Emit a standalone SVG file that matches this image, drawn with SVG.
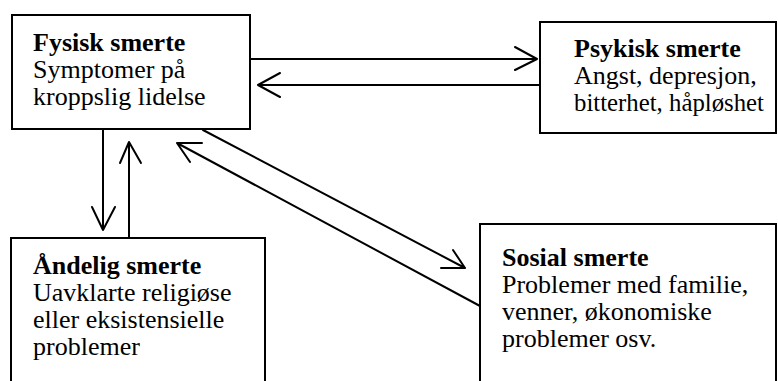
<svg xmlns="http://www.w3.org/2000/svg" width="778" height="381" viewBox="0 0 778 381">
<style>
.box{fill:#fff;stroke:#000;stroke-width:2}
.t{font-family:"Liberation Serif","Times New Roman",serif;font-size:26px;fill:#000}
.b{font-weight:bold}
.c{fill:none;stroke:#000;stroke-width:2;stroke-linecap:round;stroke-linejoin:round}
</style>
<rect width="778" height="381" fill="#fff"/>
<g id="connectors">
<path class="c" d="M250,59 H537 M515,47 L537,59 L515,70"/>
<path class="c" d="M540,85 H258 M280,73 L258,85 L280,97"/>
<path class="c" d="M103,130 V230 M92,207 L103,230 L115,207"/>
<path class="c" d="M129,238 V142 M120,163 L129,142 L141,163"/>
<path class="c" d="M203,130 L465,268 M453,250 L465,268 L441,268"/>
<path class="c" d="M480,306 L177,143 M202,143 L177,143 L190,162"/>
</g>
<g id="fysisk">
<rect class="box" x="12" y="15" width="238" height="114"/>
<text class="t b" x="33" y="51">Fysisk smerte</text>
<text class="t" x="33" y="78">Symptomer på</text>
<text class="t" x="33" y="105">kroppslig lidelse</text>
</g>
<g id="psykisk">
<rect class="box" x="540" y="22" width="236" height="111"/>
<text class="t b" x="574" y="57">Psykisk smerte</text>
<text class="t" x="574" y="84">Angst, depresjon,</text>
<text class="t" x="574" y="111" textLength="190" lengthAdjust="spacingAndGlyphs">bitterhet, håpløshet</text>
</g>
<g id="andelig">
<rect class="box" x="11" y="238" width="254" height="160"/>
<text class="t b" x="33" y="274">Åndelig smerte</text>
<text class="t" x="33" y="301">Uavklarte religiøse</text>
<text class="t" x="33" y="328">eller eksistensielle</text>
<text class="t" x="33" y="355">problemer</text>
</g>
<g id="sosial">
<rect class="box" x="480" y="224" width="296" height="170"/>
<text class="t b" x="502" y="266">Sosial smerte</text>
<text class="t" x="502" y="293">Problemer med familie,</text>
<text class="t" x="502" y="320">venner, økonomiske</text>
<text class="t" x="502" y="347">problemer osv.</text>
</g>
</svg>
